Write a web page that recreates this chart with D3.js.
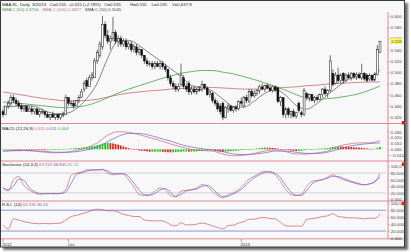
<!DOCTYPE html>
<html><head><meta charset="utf-8">
<script src="https://cdn.jsdelivr.net/npm/d3@7"></script>
<style>
html,body{margin:0;padding:0;background:#fff;}
svg{display:block;font-family:"Liberation Sans",Arial,sans-serif;}
</style></head><body>
<svg id="c" width="411" height="252"></svg>
<script>
// ---------- DATA (prices in thousandths of MYR) ----------
const openK = [430,425,440,445,455,450,445,440,435,440,
 430,435,430,435,425,430,430,425,420,425,
 420,425,420,425,425,455,445,445,440,450,
 455,470,485,475,490,490,520,530,545,585,
 565,555,560,570,555,560,550,555,545,550,
 540,545,535,540,530,520,515,515,510,515,
 510,515,510,505,490,480,475,470,478,490,
 475,480,465,470,465,470,470,478,472,460,
 462,450,445,440,445,420,435,440,432,438,
 435,448,440,455,448,466,458,462,468,474,
 470,476,472,468,474,472,448,455,425,435,
 425,430,422,445,428,425,462,455,460,450,
 455,452,460,470,462,468,498,480,495,485,
 498,485,495,490,498,492,496,490,498,495,
 488,494,486,496,535];
const highK = [435,440,450,460,460,455,450,445,440,440,
 440,440,435,435,435,435,430,430,425,430,
 425,425,425,430,460,455,450,450,450,460,
 470,485,490,495,500,525,540,555,600,590,
 575,565,598,575,565,565,560,560,555,555,
 550,550,545,540,530,525,520,520,520,520,
 520,520,515,505,495,485,480,480,515,495,
 480,485,475,475,472,475,485,480,475,468,
 465,455,450,445,448,440,445,442,440,442,
 450,455,458,460,470,470,468,470,478,480,
 478,480,478,476,476,474,458,456,438,438,
 432,435,430,448,432,472,465,462,462,458,
 460,462,472,475,470,530,505,500,508,498,
 500,498,500,500,500,500,500,515,500,498,
 498,496,500,548,555];
const lowK = [420,425,435,440,445,440,435,430,430,430,
 430,425,425,425,420,425,420,420,415,420,
 415,415,415,420,425,440,440,435,440,445,
 455,465,470,475,485,490,515,525,540,560,
 550,540,555,550,545,545,545,540,540,535,
 535,530,530,525,515,510,510,505,505,510,
 505,505,500,485,475,470,465,465,475,470,
 465,460,460,462,460,465,465,468,458,455,
 445,440,430,425,415,418,428,430,428,430,
 432,440,438,445,445,455,455,458,462,468,
 465,470,465,464,465,445,440,420,418,420,
 418,420,418,428,420,422,450,448,448,445,
 448,450,455,458,455,465,475,478,480,480,
 480,483,488,485,488,486,488,486,485,482,
 484,484,484,494,535];
const closeK = [425,440,445,455,450,445,440,435,440,430,
 435,430,435,425,430,430,425,420,425,420,
 425,420,425,425,455,445,445,440,450,455,
 465,480,475,490,495,520,535,550,585,565,
 555,560,570,555,560,550,555,545,550,540,
 545,535,540,530,520,515,515,510,515,510,
 515,510,505,490,480,475,470,475,495,475,
 470,465,470,465,470,468,478,472,460,465,
 450,445,435,430,420,438,440,432,438,435,
 448,445,455,450,466,458,462,468,474,470,
 476,472,468,474,468,448,455,425,435,425,
 430,422,428,432,425,468,455,460,450,455,
 452,460,470,462,468,520,478,495,485,495,
 485,495,490,498,492,496,490,498,488,485,
 494,486,496,540,555];

// moving averages, read every 4th session
const maIndex = d3.range(0, 145, 4);
const sma50 = [.447,.446,.444,.442,.440,.438,.437,.438,.441,.447,.455,.463,.470,.476,.482,.488,.493,.498,.501,.503,.503,.500,.497,.492,.487,.481,.475,.468,.460,.454,.452,.453,.455,.458,.462,.468,.4756];
const sma100 = [.465,.462,.459,.456,.453,.451,.449,.449,.450,.452,.456,.460,.463,.465,.467,.468,.470,.471,.472,.473,.473,.472,.471,.470,.470,.471,.472,.473,.474,.476,.477,.479,.480,.481,.482,.4825,.4827];
const sma10 = [.438,.439,.441,.4395,.4315,.4265,.427,.435,.4535,.4805,.525,.5555,.5565,.5475,.5335,.5205,.5065,.4925,.4765,.473,.4663,.4523,.4393,.438,.4489,.4624,.469,.459,.441,.4345,.4447,.46,.4745,.4873,.492,.4926,.5045];

// MACD (thousandths), every 4th session
const macdLine = [-3,-2,-2,-3,-5,-6,-5,-2,3,11,24,30,29,25,20,15,9,4,0,-2,-3,-8,-11,-10,-7,-3,-1,-4,-8,-8,-6,-3,5,9,11,11,15];
const macdSignal = [-3,-2.5,-2,-2.5,-3.5,-5,-5,-4,-1,4,13,22,27,27,24,19,14,8,4,1,-1,-4,-8,-9,-8,-6,-3,-3,-5,-7,-7,-5,0,5,8,10,11];
// MACD histogram (thousandths), every session
const macdHist = [0,0.3,0.5,0.6,0.5,0.3,0.1,0,0,-0.2,
 -0.3,-0.4,-0.5,-0.8,-1,-1.3,-1.5,-1.4,-1.2,-1.1,
 -1,-0.8,-0.6,-0.5,0.5,1,1.3,1.6,2,2.3,
 2.8,3.5,4,4.5,5.2,6,7,8,9.5,10.5,
 11,10.5,10,9,8,6.5,5,3.5,2,1,
 0,-1,-2,-2.5,-3,-3.5,-4,-4,-4,-4,
 -4,-4.2,-4.5,-5,-5.2,-5,-4.6,-4.3,-4,-3.8,
 -3.8,-4,-4,-3.6,-3.3,-3,-3,-2.6,-2.3,-2,
 -2,-2.6,-3.2,-3.8,-4.5,-4,-3.6,-3.2,-3,-2.5,
 -2,-1.5,-1,-0.5,0,0.5,1,1.5,2,2.5,
 3,2.8,2.6,2.3,2,1.2,0.5,-0.3,-1,-1.5,
 -2,-2.5,-3,-3,-2.6,-1.8,-1,-0.5,0,0.5,
 1,1.2,1.5,1.8,2,3,3.8,4.5,5,4.8,
 4.5,4.2,4,3.8,3.5,3.2,3,2.5,2,1.5,
 1,0.8,1,2.5,4];

// Stochastic & RSI, every 2nd session
const oscIndex = d3.range(0, 145, 2);
const stochK = [34,26,60,70,42,29,20,16,18,18,17,19,30,72,80,83,90,90,89,92,80,75,79,77,60,38,15,12,14,25,35,30,12,8,25,28,30,35,45,40,25,12,5,15,20,30,45,62,70,80,85,82,75,55,30,15,12,15,40,55,58,60,68,75,67,60,55,50,46,44,48,55,78];
const stochD = [36,30,40,62,58,36,24,18,17,18,18,18,23,48,75,81,86,89,90,90,86,78,77,78,70,50,28,15,13,18,29,33,22,10,15,26,29,32,40,43,33,18,9,10,17,25,37,53,66,75,82,84,79,66,43,23,13,13,27,47,56,60,65,70,70,64,58,53,48,45,47,53,69];
const rsi = [38,26,55,52,47,44,42,41,42,41,42,43,52,62,65,70,74,80,83,82,78,79,75,68,65,62,62,52,50,49,50,47,38,35,44,38,38,40,43,40,35,30,26,36,37,43,47,54,54,58,59,56,55,45,35,34,35,34,53,56,58,62,64,70,62,60,58,58,57,55,57,57,69.3];

// axis ticks
const priceTicks = [0.42,0.44,0.46,0.48,0.50,0.52,0.54,0.56,0.58,0.60];
const macdTicks = [-0.01,0,0.01,0.02,0.03];
const oscTicks = [0,20,40,60,80,100];
const xTickIndex = [0,25,91];
const xTickLabels = ["2012","Oct","2013"];
const lastPrice = 0.555;

// ---------- DRAWING ----------
const open = openK.map(v=>v/1000), high = highK.map(v=>v/1000),
      low = lowK.map(v=>v/1000), close = closeK.map(v=>v/1000);
const FONT = '"Liberation Sans",Arial,sans-serif';
const PINK = '#d2607c', BLUE = '#6666c8', RED = '#d8707c';
const svg = d3.select('#c');
const defs = svg.append('defs');
defs.append('filter').attr('id','sh').attr('x','-5%').attr('y','-5%').attr('width','110%').attr('height','110%')
  .append('feGaussianBlur').attr('stdDeviation',1.3);
svg.append('rect').attr('x',3).attr('y',3).attr('width',405).attr('height',247)
  .attr('fill','#555').attr('opacity',0.85).attr('filter','url(#sh)');
svg.append('rect').attr('x',0.5).attr('y',0.5).attr('width',404).attr('height',246.5)
  .attr('fill','#f8f8f8').attr('stroke','#3a3a3a');

const x = d3.scaleLinear().domain([0,144]).range([3,380]);
const yP = d3.scaleLinear().domain([0.42,0.60]).range([117.3,15.8]);
const yM = d3.scaleLinear().domain([-0.01,0.03]).range([155.2,131.7]);
const yS = d3.scaleLinear().domain([0,100]).range([199.5,166.5]);
const yR = d3.scaleLinear().domain([0,100]).range([238,203.3]);

// separators & axis line
[123.5,161,201,238.8].forEach(y=>{
  svg.append('line').attr('x1',1).attr('x2',404).attr('y1',y).attr('y2',y).attr('stroke',RED).attr('stroke-width',0.8);
});
svg.append('line').attr('x1',388).attr('x2',388).attr('y1',12).attr('y2',238.8).attr('stroke',RED).attr('stroke-width',0.8);

// guide lines
[80,20].forEach(v=>{
  svg.append('line').attr('x1',1).attr('x2',386).attr('y1',yS(v)).attr('y2',yS(v)).attr('stroke','#bdbdbd').attr('stroke-width',0.7);
  svg.append('line').attr('x1',1).attr('x2',386).attr('y1',yR(v)).attr('y2',yR(v)).attr('stroke',BLUE).attr('stroke-width',0.7);
});

function drawLine(idx, vals, sc, color, w, mult){
  mult = mult || 1;
  svg.append('path').datum(vals)
    .attr('d', d3.line().x((d,i)=>x(idx[i])).y(d=>sc(d*mult)).curve(d3.curveMonotoneX))
    .attr('fill','none').attr('stroke',color).attr('stroke-width',w);
}

// moving averages
drawLine(maIndex, sma100, yP, '#c9687c', 0.8);
drawLine(maIndex, sma50, yP, '#4f9e4f', 0.8);
drawLine(maIndex, sma10, yP, '#555', 0.7);

// candles
const cw = 1.9;
const cg = svg.append('g');
close.forEach((c,i)=>{
  const o = open[i], up = c >= o;
  cg.append('line').attr('x1',x(i)).attr('x2',x(i)).attr('y1',yP(high[i])).attr('y2',yP(low[i]))
    .attr('stroke','#111').attr('stroke-width',0.6);
  const top = yP(Math.max(o,c)), h = Math.max(0.7, Math.abs(yP(o)-yP(c)));
  cg.append('rect').attr('x',x(i)-cw/2).attr('y',top).attr('width',cw).attr('height',h)
    .attr('fill', up ? '#fff' : '#111').attr('stroke','#111').attr('stroke-width',0.5);
});

// MACD histogram
macdHist.forEach((v,i)=>{
  const prev = i>0 ? macdHist[i-1] : v-1;
  const val = v/1000;
  svg.append('rect').attr('x',x(i)-0.85).attr('width',1.7)
    .attr('y', Math.min(yM(0), yM(val))).attr('height', Math.max(0.6, Math.abs(yM(0)-yM(val))))
    .attr('fill', v >= prev ? '#14c814' : '#ee1c1c');
});
drawLine(maIndex, macdLine, yM, PINK, 0.7, 0.001);
drawLine(maIndex, macdSignal, yM, BLUE, 0.7, 0.001);

// Stochastic
drawLine(oscIndex, stochK, yS, PINK, 0.7);
drawLine(oscIndex, stochD, yS, BLUE, 0.7);
// RSI
drawLine(oscIndex, rsi, yR, '#c65a6e', 0.7);

// right axes
function axis(sc, vals, fmt){
  svg.append('g').attr('transform','translate(388,0)')
    .call(d3.axisRight(sc).tickValues(vals).tickFormat(fmt).tickSize(1.6).tickPadding(1.2))
    .call(g=>{
      g.attr('font-size',4.3).attr('font-family',FONT);
      g.select('.domain').remove();
      g.selectAll('line').attr('stroke',RED).attr('stroke-width',0.6);
      g.selectAll('text').attr('fill','#444');
    });
}
axis(yP, priceTicks, d3.format('.3f'));
axis(yM, macdTicks, d3.format('.3f'));
const oscFmt = v => v===100 ? '100.0' : d3.format('.3f')(v);
axis(yS, oscTicks, oscFmt);
axis(yR, oscTicks, oscFmt);

// last price marker
svg.append('rect').attr('x',390).attr('y',yP(lastPrice)-2.7).attr('width',12).attr('height',5.4).attr('fill','#ffff55');
svg.append('text').attr('x',391.2).attr('y',yP(lastPrice)).attr('dy','0.32em').attr('font-size',4.3)
  .attr('font-family',FONT).attr('fill','#333').text(d3.format('.3f')(lastPrice));

// close buttons
[[121,0],[162.5,0],[201.8,0]].forEach(([y])=>{
  svg.append('rect').attr('x',401.8).attr('y',y).attr('width',3.2).attr('height',3.4).attr('fill','#cc2222');
});

// x axis
xTickIndex.forEach((t,k)=>{
  svg.append('line').attr('x1',x(t)).attr('x2',x(t)).attr('y1',239).attr('y2',242).attr('stroke','#777').attr('stroke-width',0.6);
  svg.append('text').attr('x',x(t)-0.8).attr('y',246).attr('font-size',4.3).attr('font-family',FONT).attr('fill','#333').text(xTickLabels[k]);
});

// headers
function header(xp, y, parts){
  const t = svg.append('text').attr('x',xp).attr('y',y).attr('font-size',4.3).attr('font-family',FONT).attr('xml:space','preserve');
  parts.forEach(([s,c])=> t.append('tspan').attr('fill',c).text(s));
}
header(2, 5.6, [['MAA.KL  Daily  3/20/13   C=0.555  +0.015 (+2.78%)   O=0.535        H=0.555    L=0.535    V=5,637.9','#222']]);
header(2, 11, [['SMA C (50) 0.4756','#3f933f'],['   ',''],['SMA C (100) 0.4827','#c9687c'],['   ',''],['SMA C (10) 0.5045','#444']]);
header(2, 129.5, [['MACD (12,26,9) ','#222'],['0.015 ',PINK],['0.011 ',BLUE],['0.004','#22aa22']]);
header(2, 166, [['Stochastic (14,3,3) ','#222'],['69.333 ',PINK],['68.845 ',BLUE],['80 20','#999']]);
header(2, 206, [['R.S.I. (14) ','#222'],['69.336 ',PINK],['80 20',BLUE]]);
</script>
</body></html>
